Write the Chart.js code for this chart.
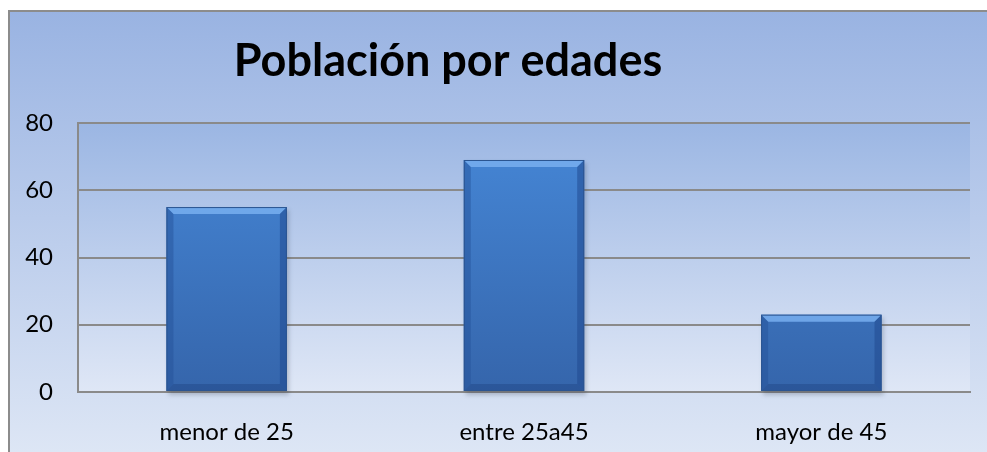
<!DOCTYPE html>
<html>
<head>
<meta charset="utf-8">
<script src="https://cdn.jsdelivr.net/npm/chart.js@4.4.1/dist/chart.umd.min.js"></script>
<style>
  html, body { margin: 0; padding: 0; background: #fff; overflow: hidden; }
  canvas { display: block; }
</style>
</head>
<body>
<canvas id="barchart" width="987" height="452"></canvas>
<script>
const categories = ['menor de 25', 'entre 25a45', 'mayor de 45'];
const poblacion = [55, 69, 23];
const yTicks = [0, 20, 40, 60, 80];
const titulo = 'Población por edades';

function outerGradient(ctx, height) {
  const g = ctx.createLinearGradient(0, 10, 0, height);
  g.addColorStop(0, '#99b3e2');
  g.addColorStop(1, '#dde6f5');
  return g;
}

// fondo, marco y titulo
const fondo = {
  id: 'fondo',
  beforeDraw(chart) {
    const { ctx, width, height, chartArea: a } = chart;
    ctx.save();
    ctx.fillStyle = outerGradient(ctx, height);
    ctx.fillRect(9, 11, width - 9, height - 11);
    ctx.strokeStyle = '#8c8c8c';
    ctx.lineWidth = 2;
    ctx.beginPath();
    ctx.moveTo(9, height);
    ctx.lineTo(9, 11);
    ctx.lineTo(width, 11);
    ctx.stroke();

    const g = ctx.createLinearGradient(0, a.top, 0, a.bottom);
    g.addColorStop(0, '#9bb6e3');
    g.addColorStop(1, '#dfe7f6');
    ctx.fillStyle = g;
    ctx.fillRect(a.left, a.top, a.right - a.left, a.bottom - a.top);

    ctx.fillStyle = '#000';
    ctx.font = 'bold 45px Lato';
    ctx.textAlign = 'center';
    ctx.textBaseline = 'alphabetic';
    ctx.fillText(titulo, 448, 76);
    ctx.restore();
  },
  afterDraw(chart) {
    const { ctx, width, height, chartArea: a } = chart;
    ctx.save();
    ctx.fillStyle = outerGradient(ctx, height);
    ctx.fillRect(a.right + 1, 12, width - a.right, height - 12);
    ctx.restore();
  }
};

// sombra y biselado de las barras
const bisel = {
  id: 'bisel',
  beforeDatasetsDraw(chart) {
    const ctx = chart.ctx;
    ctx.save();
    ctx.fillStyle = 'rgba(40,50,70,0.25)';
    chart.getDatasetMeta(0).data.forEach(b => {
      const l = b.x - b.width / 2;
      ctx.filter = 'blur(2px)';
      ctx.fillRect(l + 2, b.y + 3, b.width, b.base - b.y + 1);
    });
    ctx.restore();
  },
  afterDatasetsDraw(chart) {
    const ctx = chart.ctx;
    const s = 7;
    ctx.save();
    chart.getDatasetMeta(0).data.forEach(b => {
      const l = b.x - b.width / 2, r = b.x + b.width / 2, t = b.y, bt = b.base;
      const poly = (pts, c) => {
        ctx.beginPath();
        ctx.moveTo(pts[0][0], pts[0][1]);
        pts.slice(1).forEach(p => ctx.lineTo(p[0], p[1]));
        ctx.closePath();
        ctx.fillStyle = c;
        ctx.fill();
      };
      poly([[l, t], [r, t], [r - s, t + s], [l + s, t + s]], 'rgba(120,175,240,0.85)');
      poly([[l, t], [l + s, t + s], [l + s, bt - s], [l, bt]], 'rgba(35,80,150,0.45)');
      poly([[r, t], [r - s, t + s], [r - s, bt - s], [r, bt]], 'rgba(30,70,140,0.5)');
      poly([[l, bt], [l + s, bt - s], [r - s, bt - s], [r, bt]], 'rgba(25,60,120,0.35)');
      ctx.strokeStyle = '#2b5490';
      ctx.lineWidth = 1;
      ctx.strokeRect(l + 0.5, t + 0.5, b.width - 1, bt - t - 1);
    });
    ctx.restore();
  }
};

new Chart(document.getElementById('barchart'), {
  type: 'bar',
  data: {
    labels: categories,
    datasets: [{
      data: poblacion,
      backgroundColor: function (c) {
        const a = c.chart.chartArea;
        if (!a) return '#3f7dcb';
        const g = c.chart.ctx.createLinearGradient(0, a.top, 0, a.bottom);
        g.addColorStop(0, '#4688d8');
        g.addColorStop(1, '#3565ab');
        return g;
      },
      borderWidth: 0,
      categoryPercentage: 1,
      barPercentage: 0.405
    }]
  },
  options: {
    responsive: false,
    animation: false,
    layout: { padding: { top: 123, right: 17, left: 0, bottom: 0 } },
    plugins: {
      legend: { display: false },
      tooltip: { enabled: false },
      title: { display: false }
    },
    scales: {
      x: {
        grid: { display: false },
        border: { display: true, color: '#8a8a8a', width: 2 },
        ticks: { color: '#000', padding: 18, font: { family: 'Lato', size: 24 } },
        afterFit(scale) { scale.height = 60; }
      },
      y: {
        min: 0,
        max: 80,
        afterBuildTicks(scale) { scale.ticks = yTicks.map(v => ({ value: v })); },
        grid: { color: '#8a8a8a', lineWidth: 2, drawTicks: false },
        border: { display: true, color: '#8a8a8a', width: 2 },
        ticks: { color: '#000', padding: 25, font: { family: 'Lato', size: 24 } },
        afterFit(scale) { scale.width = 78; }
      }
    }
  },
  plugins: [fondo, bisel]
});
</script>
</body>
</html>
